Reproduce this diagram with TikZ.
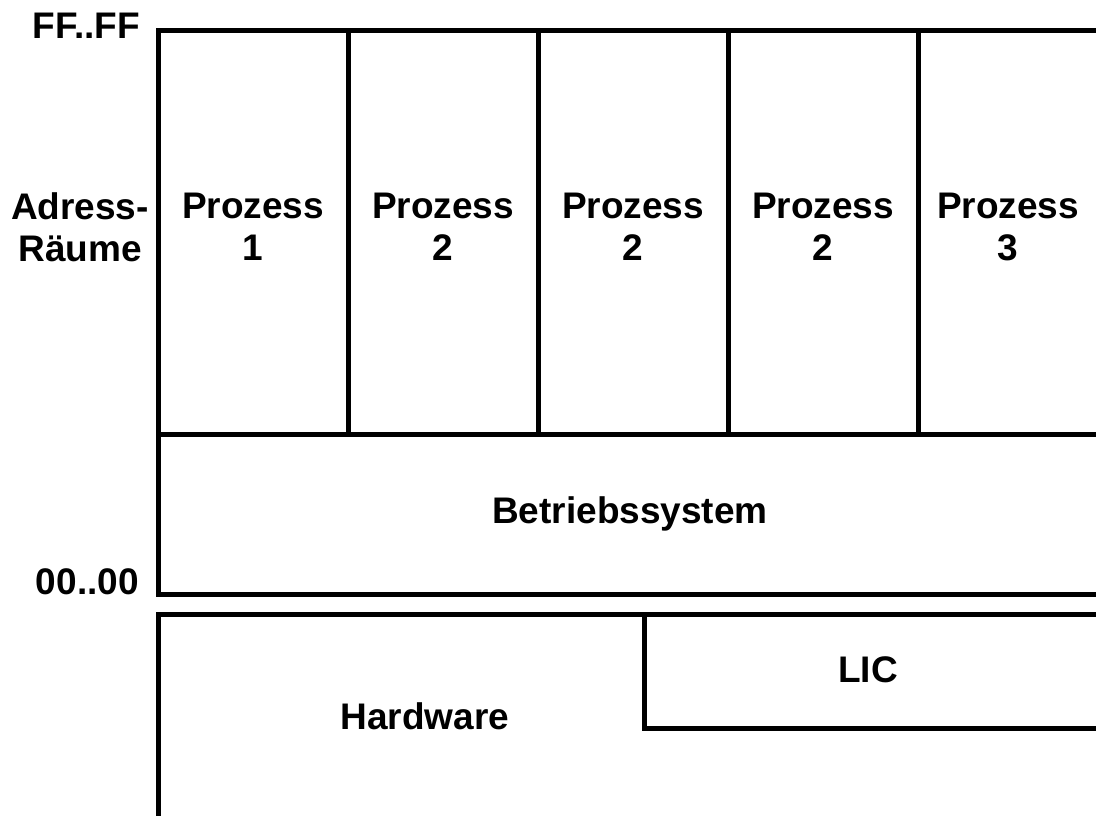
\documentclass[tikz,border=0pt]{standalone}
\usepackage{fontspec}
\setmainfont{Liberation Sans}
\begin{document}
\begin{tikzpicture}[x=1pt,y=-1pt,
  wall/.style={line width=5pt,line cap=rect},
  lbl/.style={font=\bfseries\fontsize{37}{42}\selectfont,align=center,inner sep=0pt}]
\useasboundingbox (0,0) rectangle (1096,816);
% address space frame
\draw[wall] (1096,31) -- (158,31) -- (158,594) -- (1096,594);
\draw[wall] (158,434) -- (1096,434);
\foreach \x in {348,538,728,918} \draw[wall] (\x,31) -- (\x,434);
% hardware
\draw[wall] (158,816) -- (158,614) -- (1096,614);
\draw[wall] (644,614) -- (644,728) -- (1096,728);
% labels
\node[lbl,anchor=east] (ff) at (140,25.5) {FF..FF};
\node[lbl,anchor=east] (zz) at (139,582) {00..00};
\node[lbl] (ar) at (80,227) {Adress-\\Räume};
\node[lbl] (p1) at (253,227) {Prozess\\1};
\node[lbl] (p2a) at (443,227) {Prozess\\2};
\node[lbl] (p2b) at (633,227) {Prozess\\2};
\node[lbl] (p2c) at (823,227) {Prozess\\2};
\node[lbl] (p3) at (1008,227) {Prozess\\3};
\node[lbl] (bs) at (630,514) {Betriebssystem};
\node[lbl] (lic) at (868,670) {LIC};
\node[lbl] (hw) at (425,716) {Hardware};
\end{tikzpicture}
\end{document}
